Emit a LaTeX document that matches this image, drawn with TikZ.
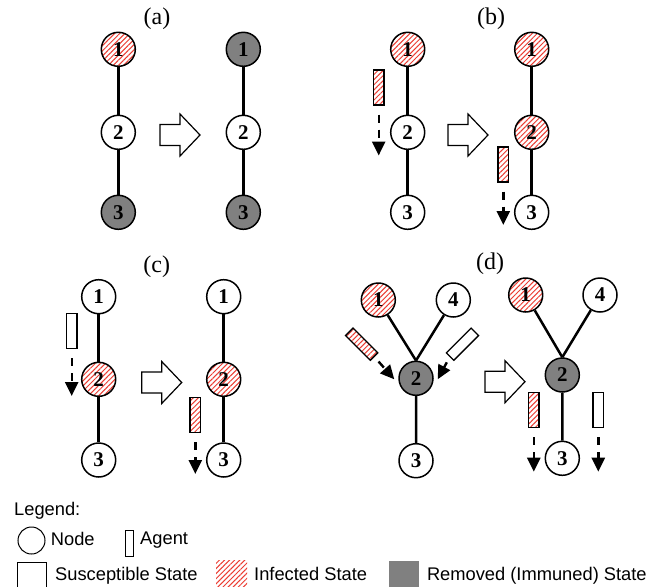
\documentclass[tikz,border=0pt]{standalone}
\usepackage{fontspec}
\setmainfont{Liberation Serif}
\newfontfamily\legendfont{Liberation Sans}
\usetikzlibrary{patterns.meta,arrows.meta}
\definecolor{hatchred}{RGB}{235,60,50}
\definecolor{remgray}{RGB}{128,128,128}
\tikzset{
 netnode/.style={circle, draw, line width=1.5pt, minimum size=34pt, inner sep=0pt, font=\fontsize{21}{21}\selectfont\bfseries},
 susc/.style={fill=white},
 infected/.style={preaction={fill=white}, pattern={Lines[angle=45,distance=3.6pt,line width=1pt]}, pattern color=hatchred},
 removed/.style={fill=remgray},
 edge/.style={line width=2.5pt},
 agentbox/.style={rectangle, draw, line width=1.3pt, minimum width=10.5pt, minimum height=35pt, inner sep=0pt},
 agentarrow/.style={line width=2.4pt, dash pattern=on 8pt off 7pt, -{Triangle[length=14pt,width=13pt]}, shorten <=9pt},
 panellabel/.style={font=\fontsize{24}{24}\selectfont, inner sep=0pt},
 legendtext/.style={font=\legendfont\fontsize{18.3}{20}\selectfont, anchor=base west, inner sep=0pt},
 pics/bigarrow/.style={code={\draw[line width=1.2pt, fill=white] (0,-10.5) -- (20,-10.5) -- (20,-21) -- (40,0) -- (20,21) -- (20,10.5) -- (0,10.5) -- cycle;}}
}
\begin{document}
\begin{tikzpicture}[x=1pt,y=-1pt]
\path[use as bounding box] (0,0) rectangle (652,586);
\clip (0,0) rectangle (652,586);

% ---------- (a) ----------
\node[panellabel] (la) at (157,19) {(a)};
\node[netnode, infected] (a1) at (118.3,49.3) {1};
\node[netnode, susc] (a2) at (118.3,132.3) {2};
\node[netnode, removed] (a3) at (118.3,212.3) {3};
\draw[edge] (a1) -- (a2) (a2) -- (a3);
\pic at (160,135) {bigarrow};
\node[netnode, removed] (ar1) at (243.3,49.3) {1};
\node[netnode, susc] (ar2) at (243.3,132.3) {2};
\node[netnode, removed] (ar3) at (243.3,212.3) {3};
\draw[edge] (ar1) -- (ar2) (ar2) -- (ar3);

% ---------- (b) ----------
\node[panellabel] (lb) at (491,19) {(b)};
\node[netnode, infected] (b1) at (407.7,49.3) {1};
\node[netnode, susc] (b2) at (407.7,132.3) {2};
\node[netnode, susc] (b3) at (407.7,212.3) {3};
\draw[edge] (b1) -- (b2) (b2) -- (b3);
\node[agentbox, infected] (bA) at (378.7,87.5) {};
\coordinate (bAt) at (378.7,155.5);
\draw[agentarrow] (bA.south) -- (bAt);
\pic at (448,135) {bigarrow};
\node[netnode, infected] (br1) at (531.7,49.3) {1};
\node[netnode, infected] (br2) at (531.7,132.3) {2};
\node[netnode, susc] (br3) at (531.7,212.3) {3};
\draw[edge] (br1) -- (br2) (br2) -- (br3);
\node[agentbox, infected] (brA) at (503.3,164.5) {};
\coordinate (brAt) at (503.3,225);
\draw[agentarrow] (brA.south) -- (brAt);

% ---------- (c) ----------
\node[panellabel] (lc) at (156.7,266.5) {(c)};
\node[netnode, susc] (c1) at (98.7,296.7) {1};
\node[netnode, infected] (c2) at (98.7,379.3) {2};
\node[netnode, susc] (c3) at (98.7,460) {3};
\draw[edge] (c1) -- (c2) (c2) -- (c3);
\node[agentbox, susc] (cA) at (71.7,331) {};
\coordinate (cAt) at (71.7,396);
\draw[agentarrow] (cA.south) -- (cAt);
\pic at (141.7,382.5) {bigarrow};
\node[netnode, susc] (cr1) at (223.7,296.7) {1};
\node[netnode, infected] (cr2) at (223.7,379.3) {2};
\node[netnode, susc] (cr3) at (223.7,460) {3};
\draw[edge] (cr1) -- (cr2) (cr2) -- (cr3);
\node[agentbox, infected] (crA) at (195.3,415) {};
\coordinate (crAt) at (195.3,474);
\draw[agentarrow] (crA.south) -- (crAt);

% ---------- (d) ----------
\node[panellabel] (ld) at (490,264) {(d)};
\node[netnode, infected] (d1) at (378.3,300) {1};
\node[netnode, susc] (d4) at (453.3,300) {4};
\node[netnode, removed] (d2) at (416,378.3) {2};
\node[netnode, susc] (d3) at (416,460.7) {3};
\draw[edge] (d1) -- (d2.north) (d4) -- (d2.north) (d2) -- (d3);
\node[agentbox, infected, rotate=45] (dA1) at (361.7,344.2) {};
\coordinate (dA1t) at (394.3,379.3);
\draw[agentarrow, shorten <=6pt] (dA1.south) -- (dA1t);
\node[agentbox, susc, rotate=-45] (dA2) at (462.5,344.2) {};
\coordinate (dA2t) at (437.7,379.3);
\draw[agentarrow, shorten <=6pt] (dA2.south) -- (dA2t);
\pic at (485,381.7) {bigarrow};
\node[netnode, infected] (dr1) at (525.7,295) {1};
\node[netnode, susc] (dr4) at (600,295) {4};
\node[netnode, removed] (dr2) at (562.3,375) {2};
\node[netnode, susc] (dr3) at (562.3,458.3) {3};
\draw[edge] (dr1) -- (dr2.north) (dr4) -- (dr2.north) (dr2) -- (dr3);
\node[agentbox, infected] (drA1) at (533.8,410) {};
\coordinate (drA1t) at (533.8,471.7);
\draw[agentarrow] (drA1.south) -- (drA1t);
\node[agentbox, susc] (drA2) at (598.3,410) {};
\coordinate (drA2t) at (598.3,471.7);
\draw[agentarrow] (drA2.south) -- (drA2t);

% ---------- legend ----------
\node[legendtext] (legT) at (14,515) {Legend:};
\node[circle, draw, line width=1pt, minimum size=27pt, inner sep=0pt] (legN) at (31.5,540.5) {};
\node[legendtext] (legNt) at (50.7,545) {Node};
\node[rectangle, draw, line width=1pt, minimum width=7.5pt, minimum height=26.5pt, inner sep=0pt] (legA) at (129.5,543.3) {};
\node[legendtext] (legAt) at (140,544.3) {Agent};
\node[rectangle, draw, line width=1pt, minimum width=28.7pt, minimum height=34pt, inner sep=0pt, anchor=north west] (legS) at (17.3,561.7) {};
\node[legendtext] (legSt) at (55,580) {Susceptible State};
\node[rectangle, infected, minimum width=31pt, minimum height=34pt, inner sep=0pt, anchor=north west] (legI) at (216,560) {};
\node[legendtext] (legIt) at (254,580) {Infected State};
\node[rectangle, removed, minimum width=29.4pt, minimum height=34pt, inner sep=0pt, anchor=north west] (legR) at (389,561) {};
\node[legendtext] (legRt) at (426.8,580) {Removed (Immuned) State};
\end{tikzpicture}
\end{document}
